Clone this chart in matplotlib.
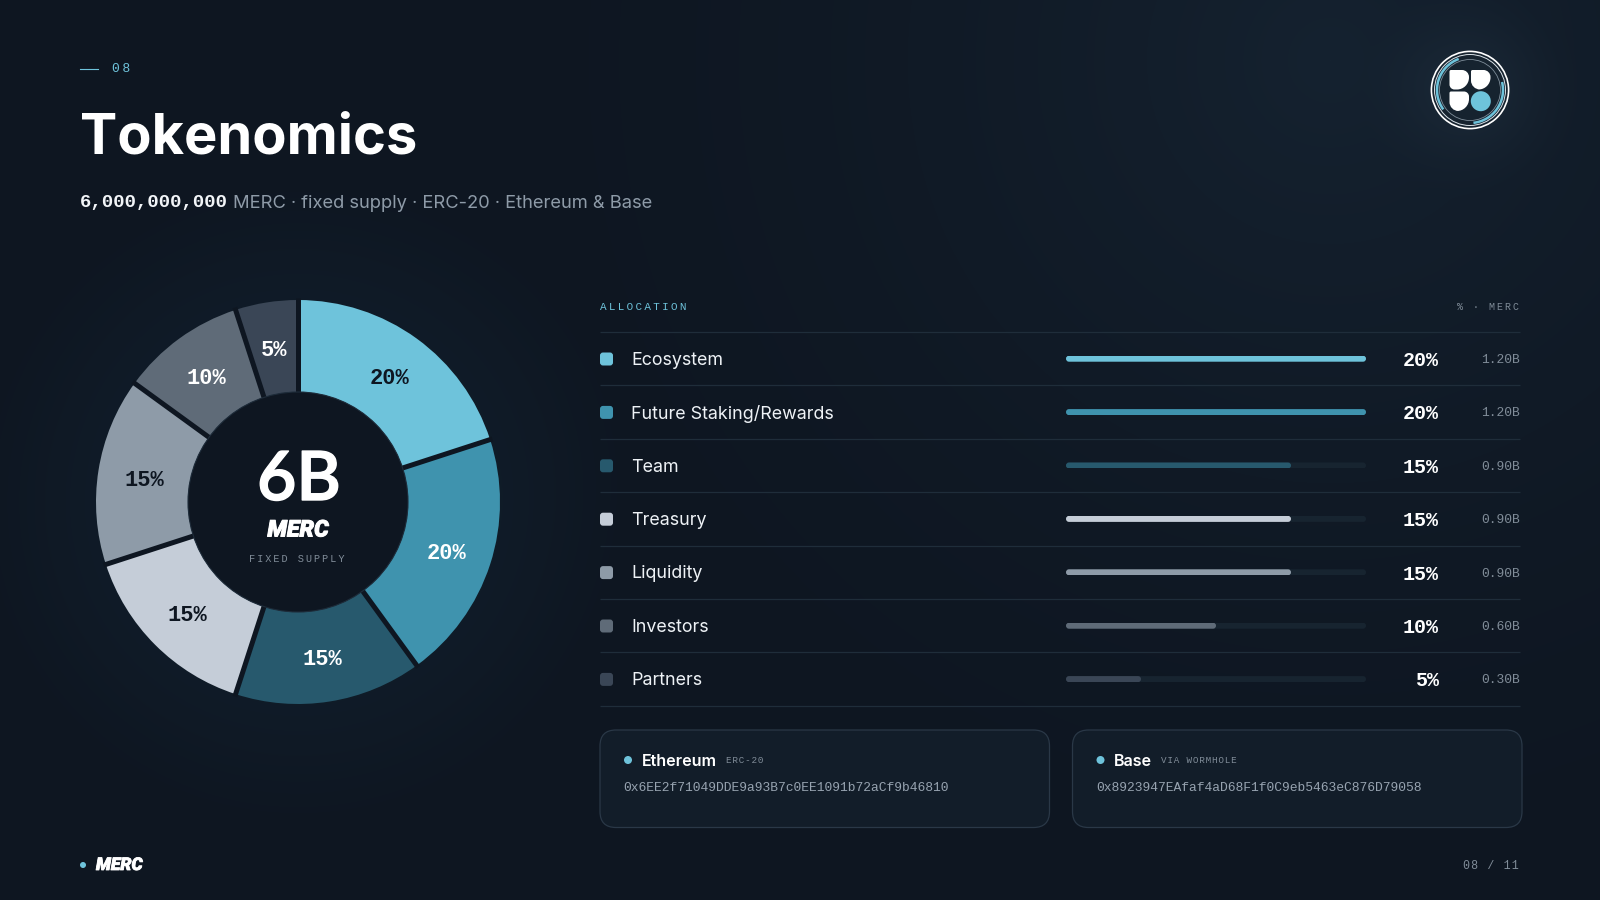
import numpy as np
import matplotlib
matplotlib.use("Agg")
import matplotlib.pyplot as plt
import matplotlib.patheffects as pe
from matplotlib.patches import FancyBboxPatch, Circle, Arc, PathPatch
from matplotlib.path import Path

# ---- data ----
categories = ["Ecosystem", "Future Staking/Rewards", "Team", "Treasury", "Liquidity", "Investors", "Partners"]
shares = [20, 20, 15, 15, 15, 10, 5]
merc_billions = [1.20, 1.20, 0.90, 0.90, 0.90, 0.60, 0.30]
colors = ["#6EC3DB", "#3F93AE", "#27596D", "#C5CDD8", "#8E9BA8", "#5F6B78", "#3A4656"]
label_colors = ["#0E1621", "#FFFFFF", "#FFFFFF", "#0E1621", "#0E1621", "#FFFFFF", "#FFFFFF"]
chains = [("Ethereum", "ERC-20", "0x6EE2f71049DDE9a93B7c0EE1091b72aCf9b46810"),
          ("Base", "VIA WORMHOLE", "0x8923947EAfaf4aD68F1f0C9eb5463eC876D79058")]

BG = "#0E1621"
ACC = "#6EC3DB"
SANS = "Inter"
LATO = "Lato"
HEAVY = "Roboto"
MONO = ["Liberation Mono", "DejaVu Sans"]

def px(v):
    return v * 0.72

def track(s, sep="\u2009"):
    return sep.join(s)

W, H = 1600, 900
fig = plt.figure(figsize=(16, 9), dpi=100, facecolor=BG)

def axes_px(x0, y0, x1, y1, **kw):
    return fig.add_axes([x0 / W, 1 - y1 / H, (x1 - x0) / W, (y1 - y0) / H], **kw)

# ---- background ----
bgax = axes_px(0, 0, W, H, zorder=0)
yy, xx = np.mgrid[0:H, 0:W]
img = np.ones((H, W, 3)) * np.array([14, 22, 33], float)
def glow(cx, cy, r, amp, power=2.0):
    d = np.clip(1 - np.hypot(xx - cx, yy - cy) / r, 0, 1) ** power
    return d[..., None] * np.array(amp, float)
img += glow(298, 502, 330, (5, 13, 17), 1.0)
img += glow(1330, 60, 1000, (7, 12, 15), 2.0)
img += glow(1470, 90, 110, (9, 12, 13), 1.5)
bgax.imshow(img.clip(0, 255).astype(np.uint8), extent=(0, W, H, 0), aspect="auto", interpolation="bilinear")
bgax.set_axis_off()

# ---- donut ----
CX, CY, R, RIN = 298, 502, 202, 110
pie_ax = axes_px(CX - R, CY - R, CX + R, CY + R, zorder=1)
wedges, _, autotexts = pie_ax.pie(
    shares, colors=colors, startangle=90, counterclock=False, radius=1.0,
    wedgeprops=dict(width=1 - RIN / R, linewidth=0),
    autopct="%d%%", pctdistance=(R + RIN) / 2 / R,
    textprops=dict(family=MONO, fontweight="bold", fontsize=px(22)))
for t, c in zip(autotexts, label_colors):
    t.set_color(c)
    x, y = t.get_position()
    t.set_position((x, y - 3 / R))
pie_ax.set_xlim(-1, 1)
pie_ax.set_ylim(-1, 1)
for w in wedges:
    w.set_clip_on(False)
# separators between wedges
cum = np.cumsum([0] + shares[:-1]) / sum(shares)
for f in cum:
    a = np.pi / 2 - 2 * np.pi * f
    pie_ax.plot([0.5 * np.cos(a), 1.012 * np.cos(a)], [0.5 * np.sin(a), 1.012 * np.sin(a)],
                color="#0E1621", lw=px(5), solid_capstyle="butt", clip_on=False, zorder=3)
pie_ax.add_patch(Circle((0, 0), RIN / R, fc="#0E1621", ec="#1E2C3A", lw=0.8, zorder=4))

# ---- bars ----
rows_top, row_h = 332, 53.4
n = len(categories)
bar_ax = axes_px(1066, rows_top, 1366, rows_top + row_h * n, zorder=1)
bar_ax.set_xlim(0, max(shares))
bar_ax.set_ylim(n, 0)
bar_ax.set_axis_off()
bar_ax.patch.set_alpha(0)
y_pos = np.arange(n) + 0.5
bar_h = 6 / row_h
asp = (1 / row_h) / (max(shares) / 300)
def round_bars(container):
    for b in container:
        clip = FancyBboxPatch((b.get_x(), b.get_y()), b.get_width(), b.get_height(),
                              boxstyle="round,pad=0,rounding_size=0.2", mutation_aspect=asp,
                              transform=bar_ax.transData)
        b.set_clip_path(clip)
round_bars(bar_ax.barh(y_pos, [max(shares)] * n, height=bar_h, color="#172430"))
round_bars(bar_ax.barh(y_pos, shares, height=bar_h, color=colors))

# ---- overlay ----
ax = axes_px(0, 0, W, H, zorder=2)
ax.set_xlim(0, W)
ax.set_ylim(H, 0)
ax.set_axis_off()
ax.patch.set_alpha(0)

# header
ax.plot([80, 98], [68.5, 68.5], color=ACC, lw=0.8)
ax.text(112, 68.5, track("08"), family=MONO, fontsize=px(13), color=ACC, va="center", ha="left")
ax.text(80, 138, "Tokenomics", family=SANS, fontweight="bold", fontsize=px(56), color="#FFFFFF", va="center", ha="left")
ax.text(80, 203, "6,000,000,000", family=MONO, fontweight="bold", fontsize=px(19), color="#F2F5F8", va="center", ha="left")
ax.text(233, 203, "MERC · fixed supply · ERC-20 · Ethereum & Base", family=SANS, fontsize=px(18.4), color="#8E9BA8", va="center", ha="left")

# centre of donut
ax.text(CX + 1, 481, "6B", family=LATO, fontweight="semibold", fontsize=px(68), color="#FFFFFF", va="center", ha="center",
        path_effects=[pe.withStroke(linewidth=1.0, foreground="#FFFFFF")])
ax.text(CX, 530, "MERC", family=HEAVY, fontweight="black", fontstyle="italic", fontsize=px(23), color="#FFFFFF", va="center", ha="center",
        path_effects=[pe.withStroke(linewidth=0.7, foreground="#FFFFFF")])
ax.text(CX - 1, 559.5, track("FIXED SUPPLY"), family=MONO, fontsize=px(10.2), color="#808C98", va="center", ha="center")

# table head
ax.text(600, 307, track("ALLOCATION"), family=MONO, fontsize=px(11), color=ACC, va="center", ha="left")
ax.text(1519, 307, track("% · MERC"), family=MONO, fontsize=px(10), color="#808C98", va="center", ha="right")

for i in range(n + 1):
    y = rows_top + row_h * i
    ax.plot([600, 1520], [y, y], color="#1F2D3A", lw=0.9, solid_capstyle="butt")

for i, (c, s, m, col) in enumerate(zip(categories, shares, merc_billions, colors)):
    y = rows_top + row_h * (i + 0.5)
    ax.add_patch(FancyBboxPatch((600, y - 6.2), 13, 13, boxstyle="round,pad=0,rounding_size=3", fc=col, ec="none"))
    ax.text(631, y + 1.5, c, family=SANS, fontsize=px(17.9), color="#EEF2F6", va="center", ha="left")
    ax.text(1439, y + 1.7, f"{s}%", family=MONO, fontweight="bold", fontsize=px(20), color="#FFFFFF", va="center", ha="right")
    ax.text(1520, y + 1.3, f"{m:.2f}B", family=MONO, fontsize=px(13), color="#808C98", va="center", ha="right")

# chain cards
card_x = [600, 1072.5]
for x0, (name, tag, addr) in zip(card_x, chains):
    ax.add_patch(FancyBboxPatch((x0, 730), 449.5, 97.5, boxstyle="round,pad=0,rounding_size=16",
                                fc="#121D29", ec="#2A3847", lw=0.9))
    ax.add_patch(Circle((x0 + 28, 760), 4, fc=ACC, ec="none"))
    nm = ax.text(x0 + 41.7, 761.5, name, family=SANS, fontweight="semibold", fontsize=px(16.1), color="#FFFFFF", va="center", ha="left")
    bb = nm.get_window_extent(fig.canvas.get_renderer())
    ax.text(bb.x1 + 9, 760.5, track(tag, "\u200a"), family=MONO, fontsize=px(9.3), color="#808C98", va="center", ha="left")
    ax.text(x0 + 23.3, 788, addr, family=MONO, fontsize=px(13), color="#97A3B0", va="center", ha="left")

# footer
ax.add_patch(Circle((83, 865), 3, fc=ACC, ec="none"))
ax.text(96, 865.5, "MERC", family=HEAVY, fontweight="black", fontstyle="italic", fontsize=px(17.5), color="#FFFFFF", va="center", ha="left",
        path_effects=[pe.withStroke(linewidth=0.6, foreground="#FFFFFF")])
ax.text(1519, 866, track("08 / 11", "\u200a"), family=MONO, fontsize=px(11.6), color="#808C98", va="center", ha="right")

# logo
LX, LY = 1470, 90
ax.add_patch(Circle((LX, LY), 38.6, fc="#16232F", ec="#FFFFFF", lw=1.2))
ax.add_patch(Circle((LX, LY), 35.5, fc="none", ec="#D8E0E6", lw=0.7))
ax.add_patch(Circle((LX, LY), 30.5, fc="none", ec="#7F8E9A", lw=0.6))
ax.add_patch(Arc((LX, LY), 66, 66, theta1=144, theta2=250, color=ACC, lw=1.8))
ax.add_patch(Arc((LX, LY), 66, 66, theta1=-14, theta2=84, color=ACC, lw=1.8))

def corner_rect(x0, y0, x1, y1, rtl, rtr, rbr, rbl):
    k = 0.5523
    v = [(x0 + rtl, y0), (x1 - rtr, y0),
         (x1 - rtr + k * rtr, y0), (x1, y0 + rtr - k * rtr), (x1, y0 + rtr),
         (x1, y1 - rbr),
         (x1, y1 - rbr + k * rbr), (x1 - rbr + k * rbr, y1), (x1 - rbr, y1),
         (x0 + rbl, y1),
         (x0 + rbl - k * rbl, y1), (x0, y1 - rbl + k * rbl), (x0, y1 - rbl),
         (x0, y0 + rtl),
         (x0, y0 + rtl - k * rtl), (x0 + rtl - k * rtl, y0), (x0 + rtl, y0), (x0 + rtl, y0)]
    c = [Path.MOVETO, Path.LINETO, Path.CURVE4, Path.CURVE4, Path.CURVE4, Path.LINETO,
         Path.CURVE4, Path.CURVE4, Path.CURVE4, Path.LINETO, Path.CURVE4, Path.CURVE4, Path.CURVE4,
         Path.LINETO, Path.CURVE4, Path.CURVE4, Path.CURVE4, Path.CLOSEPOLY]
    return PathPatch(Path(v, c), fc="#FFFFFF", ec="none")

ax.add_patch(corner_rect(1449.5, 70, 1469, 89.5, 1.5, 7, 12, 5))
ax.add_patch(corner_rect(1471, 70, 1490.5, 89.5, 1.5, 7, 12, 9))
ax.add_patch(corner_rect(1449.5, 91.5, 1469, 111, 1.5, 5, 12, 9))
ax.add_patch(Circle((1480.8, 101.2), 10, fc=ACC, ec="none"))

fig.savefig("out.png", dpi=100, facecolor=BG)
